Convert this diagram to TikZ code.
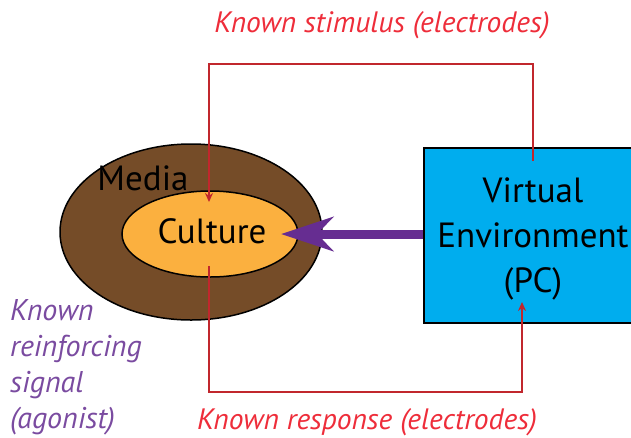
\documentclass[tikz,border=0pt]{standalone}
\usepackage{fontspec}
\setmainfont{PT Sans}
\usetikzlibrary{shapes.geometric,arrows.meta}
\definecolor{mediabrown}{HTML}{754C28}
\definecolor{cultureorange}{HTML}{FBB03F}
\definecolor{pcblue}{HTML}{00ADEE}
\definecolor{wirered}{HTML}{C1272D}
\definecolor{labelred}{HTML}{EE2D3A}
\definecolor{agpurple}{HTML}{662D91}
\definecolor{labelpurple}{HTML}{7A4BA0}
\tikzset{
  wire/.style={draw=wirered, line width=2pt, -{Stealth[length=9pt,width=8pt]}},
  redlabel/.style={text=labelred, font=\fontsize{29.5}{32}\selectfont\itshape, inner sep=0pt, anchor=base},
  bigtext/.style={font=\fontsize{35}{45}\selectfont, inner sep=0pt, text=black},
}
\begin{document}
\begin{tikzpicture}[x=1pt,y=-1pt]
\useasboundingbox (0,0) rectangle (631,437);
% ellipses
\node[ellipse, draw=black, line width=1.5pt, fill=mediabrown, minimum width=262pt, minimum height=176pt, inner sep=0pt] (media) at (191,232) {};
\node[ellipse, draw=black, line width=1.5pt, fill=cultureorange, minimum width=176pt, minimum height=86pt, inner sep=0pt] (culture) at (210,234) {};
\node[bigtext, anchor=base] (medialbl) at (143,190) {Media};
\node[bigtext, anchor=base] (culturelbl) at (212,243) {Culture};
% PC box
\node[draw=black, line width=2pt, fill=pcblue, minimum width=230pt, minimum height=175pt, inner sep=0pt, anchor=north west] (pc) at (423,147) {};
\node[bigtext, align=center, anchor=base] (pctext) at (533,292) {Virtual\\Environment\\(PC)};
% coordinates for wires
\coordinate (stimstart) at (533,161);
\coordinate (stimend) at (209,202);
\coordinate (respstart) at (209,266);
\coordinate (respend) at (522,302);
\coordinate (topy) at (0,64);
\coordinate (boty) at (0,392);
\draw[wire] (stimstart) -- (stimstart |- topy) -- (stimend |- topy) -- (stimend);
\draw[wire] (respstart) -- (respstart |- boty) -- (respend |- boty) -- (respend);
% purple arrow
\coordinate (agtip) at (281,234);
\draw[draw=agpurple, line width=9pt, -{Stealth[length=52pt,width=34pt,inset=16pt]}] (pc.west |- agtip) -- (agtip);
% labels
\node[redlabel] (stimlbl) at (382,32) {Known stimulus (electrodes)};
\node[redlabel] (resplbl) at (367,429) {Known response (electrodes)};
\node[text=labelpurple, font=\fontsize{30}{36}\selectfont\itshape, align=left, inner sep=0pt, anchor=base west] (aglbl) at (10,428) {Known\\reinforcing\\signal\\(agonist)};
\end{tikzpicture}
\end{document}
